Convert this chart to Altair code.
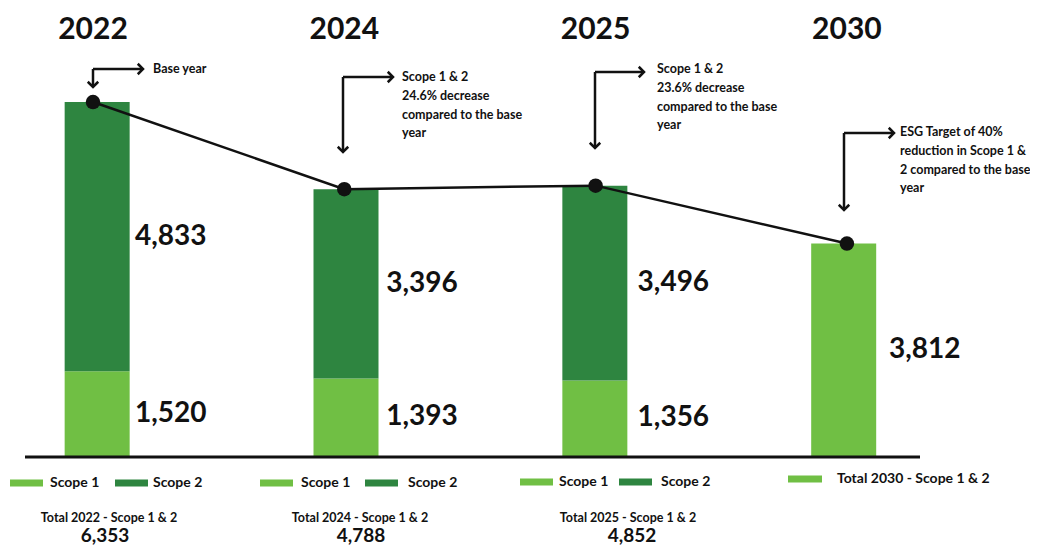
import altair as alt
import pandas as pd

# ---------------- data ----------------
years = ["2022", "2024", "2025", "2030"]
scope1 = [1520, 1393, 1356]
scope2 = [4833, 3396, 3496]
target_2030 = 3812
totals = [6353, 4788, 4852]
total_titles = ["Total 2022 - Scope 1 & 2", "Total 2024 - Scope 1 & 2", "Total 2025 - Scope 1 & 2"]
notes = [
    ["Base year"],
    ["Scope 1 & 2", "24.6% decrease", "compared to the base", "year"],
    ["Scope 1 & 2", "23.6% decrease", "compared to the base", "year"],
    ["ESG Target of 40%", "reduction in Scope 1 &", "2 compared to the base", "year"],
]
legend_labels = ["Scope 1", "Scope 2", "Total 2030 - Scope 1 & 2"]

# ---------------- style / layout ----------------
LIGHT = "#70bf44"
DARK = "#2e8540"
INK = "#111111"
FONT = "Lato"
W, H = 1022, 541

XS = alt.Scale(domain=[-0.3382, 3.7286], nice=False, zero=False)
YS = alt.Scale(domain=[-1669, 8040], nice=False, zero=False)
PX = alt.Scale(domain=[0, W], nice=False, zero=False)
PY = alt.Scale(domain=[0, H], nice=False, zero=False, reverse=True)

note_corner = [(85, 61), (335, 69), (587, 64), (836, 125)]
note_tip_x = [135, 385, 636, 886]
note_tip_y = [79, 144, 140, 202]
note_text_x = [145, 394, 649, 892]
note_line_y0 = [61, 69, 61, 124]
note_gap = 18.8

# ---------------- frames ----------------
bar_rows = []
for i in range(3):
    bar_rows.append(dict(i=i, y0=0, y1=scope1[i], c=LIGHT, v=scope1[i]))
    bar_rows.append(dict(i=i, y0=scope1[i], y1=scope1[i] + scope2[i], c=DARK, v=scope2[i]))
bar_rows.append(dict(i=3, y0=0, y1=target_2030, c=LIGHT, v=target_2030))
bars_df = pd.DataFrame(bar_rows)
bars_df["mid"] = (bars_df["y0"] + bars_df["y1"]) / 2
bars_df["label"] = bars_df["v"].map(lambda v: f"{v:,}")

tops_df = pd.DataFrame({"i": [0, 1, 2, 3],
                        "top": [scope1[k] + scope2[k] for k in range(3)] + [target_2030]})
years_df = pd.DataFrame({"i": [0, 1, 2, 3], "year": years})

rule_rows, down_rows, right_rows, note_rows = [], [], [], []
for k in range(4):
    cx, cy = note_corner[k]
    rule_rows.append(dict(x=cx, x2=cx, y=cy, y2=note_tip_y[k] - 1))
    rule_rows.append(dict(x=cx, x2=note_tip_x[k] - 1, y=cy, y2=cy))
    down_rows.append(dict(x=cx, y=note_tip_y[k]))
    right_rows.append(dict(x=note_tip_x[k], y=cy))
    for j, t in enumerate(notes[k]):
        note_rows.append(dict(x=note_text_x[k], y=note_line_y0[k] + j * note_gap, t=t))
rules_df = pd.DataFrame(rule_rows)
down_df = pd.DataFrame(down_rows)
right_df = pd.DataFrame(right_rows)
note_df = pd.DataFrame(note_rows)

base_df = pd.DataFrame([dict(x=17, x2=912, y=449, y2=449)])

sw_rows = []
leg_rows = []
light_x = [2, 252, 512]
dark_x = [107, 357, 611]
light_tx = [42, 293, 551]
dark_tx = [145, 400, 653]
leg_y = [475, 475, 474]
for k in range(3):
    sw_rows.append(dict(x=light_x[k], x2=light_x[k] + 33, y=leg_y[k] - 3.5, y2=leg_y[k] + 3.5, c=LIGHT))
    sw_rows.append(dict(x=dark_x[k], x2=dark_x[k] + 33, y=leg_y[k] - 3.5, y2=leg_y[k] + 3.5, c=DARK))
    leg_rows.append(dict(x=light_tx[k], y=leg_y[k], t=legend_labels[0]))
    leg_rows.append(dict(x=dark_tx[k], y=leg_y[k], t=legend_labels[1]))
sw_rows.append(dict(x=780, x2=814, y=467.5, y2=474.5, c=LIGHT))
leg_rows.append(dict(x=829, y=471, t=legend_labels[2]))
sw_df = pd.DataFrame(sw_rows)
leg_df = pd.DataFrame(leg_rows)

tot_title_df = pd.DataFrame({"x": [101, 352, 620], "y": [510] * 3, "t": total_titles})
tot_num_df = pd.DataFrame({"x": [97, 353, 624], "y": [528] * 3, "t": [f"{v:,}" for v in totals]})


def pxy(ch, fx="x", fy="y"):
    return ch.encode(x=alt.X(f"{fx}:Q", scale=PX, axis=None), y=alt.Y(f"{fy}:Q", scale=PY, axis=None))


# ---------------- layers ----------------
bars = alt.Chart(bars_df).mark_bar(size=65).encode(
    x=alt.X("i:Q", scale=XS, axis=None),
    y=alt.Y("y0:Q", scale=YS, axis=None),
    y2="y1:Q",
    color=alt.Color("c:N", scale=None),
)
values = alt.Chart(bars_df).mark_text(
    align="left", baseline="middle", dx=42, fontSize=28, fontWeight="bold", font=FONT, color=INK
).encode(
    x=alt.X("i:Q", scale=XS, axis=None),
    y=alt.Y("mid:Q", scale=YS, axis=None),
    text="label:N",
)
line = alt.Chart(tops_df).mark_line(color=INK, strokeWidth=2.5).encode(
    x=alt.X("i:Q", scale=XS, axis=None),
    y=alt.Y("top:Q", scale=YS, axis=None),
)
dots = alt.Chart(tops_df).mark_circle(color=INK, size=210, opacity=1).encode(
    x=alt.X("i:Q", scale=XS, axis=None),
    y=alt.Y("top:Q", scale=YS, axis=None),
)
year_titles = alt.Chart(years_df).mark_text(
    baseline="middle", fontSize=30, fontWeight="bold", font=FONT, color=INK
).encode(
    x=alt.X("i:Q", scale=XS, axis=None),
    y=alt.value(22),
    text="year:N",
)
baseline = alt.Chart(base_df).mark_rule(color=INK, strokeWidth=3).encode(
    x=alt.X("x:Q", scale=PX, axis=None), x2="x2:Q",
    y=alt.Y("y:Q", scale=PY, axis=None), y2="y2:Q",
)
arrow_rules = alt.Chart(rules_df).mark_rule(color=INK, strokeWidth=2.5).encode(
    x=alt.X("x:Q", scale=PX, axis=None), x2="x2:Q",
    y=alt.Y("y:Q", scale=PY, axis=None), y2="y2:Q",
)
down_heads = pxy(alt.Chart(down_df).mark_point(
    shape="M-1,-1L0,0L1,-1", filled=False, size=110, strokeWidth=2.5, color=INK, opacity=1))
right_heads = pxy(alt.Chart(right_df).mark_point(
    shape="M-1,-1L0,0L-1,1", filled=False, size=110, strokeWidth=2.5, color=INK, opacity=1))
note_text = pxy(alt.Chart(note_df).mark_text(
    align="left", baseline="middle", fontSize=12.5, fontWeight="bold", font=FONT, color=INK)).encode(text="t:N")
swatches = alt.Chart(sw_df).mark_rect().encode(
    x=alt.X("x:Q", scale=PX, axis=None), x2="x2:Q",
    y=alt.Y("y:Q", scale=PY, axis=None), y2="y2:Q",
    color=alt.Color("c:N", scale=None),
)
legend_text = pxy(alt.Chart(leg_df).mark_text(
    align="left", baseline="middle", fontSize=14, fontWeight="bold", font=FONT, color=INK)).encode(text="t:N")
tot_titles = pxy(alt.Chart(tot_title_df).mark_text(
    align="center", baseline="middle", fontSize=12.5, fontWeight="bold", font=FONT, color=INK)).encode(text="t:N")
tot_nums = pxy(alt.Chart(tot_num_df).mark_text(
    align="center", baseline="middle", fontSize=19, fontWeight="bold", font=FONT, color=INK)).encode(text="t:N")

chart = alt.layer(
    bars, baseline, line, dots, values, year_titles,
    arrow_rules, down_heads, right_heads, note_text,
    swatches, legend_text, tot_titles, tot_nums,
).resolve_scale(x="independent", y="independent").properties(
    width=W, height=H, padding=0, autosize=alt.AutoSizeParams(type="none"),
    background="white",
).configure_view(stroke=None)

chart.save("out.html", embed_options={"renderer": "svg", "actions": False})
